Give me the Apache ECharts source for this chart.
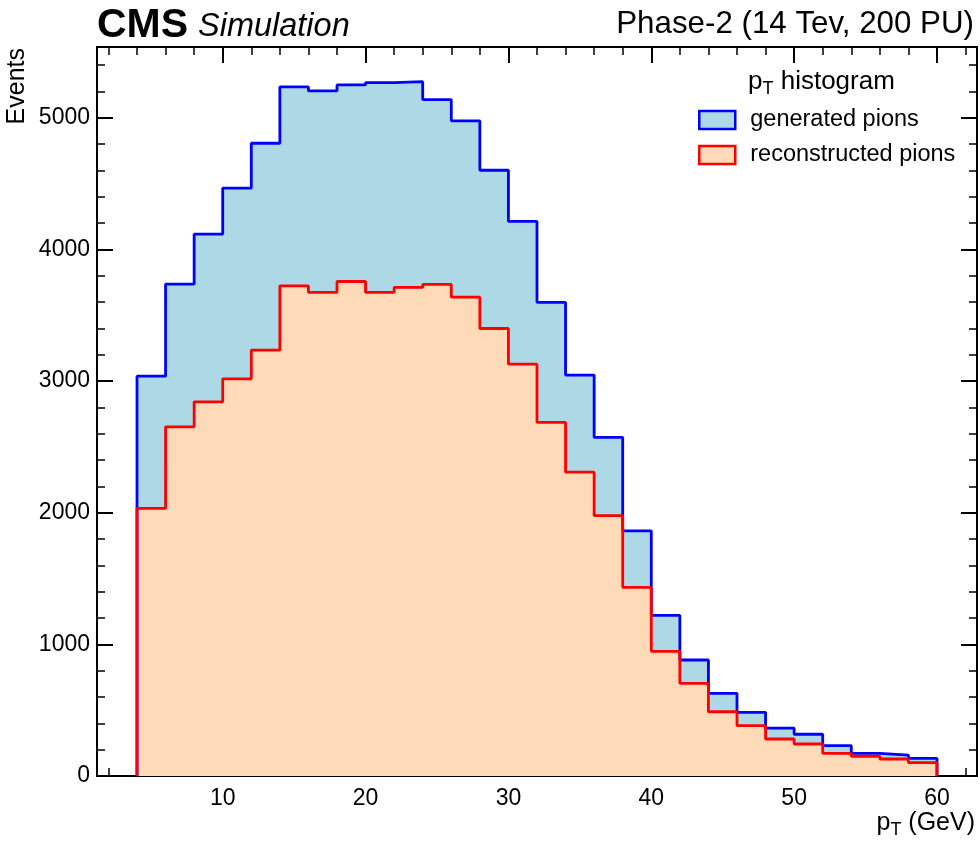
<!DOCTYPE html>
<html>
<head>
<meta charset="utf-8">
<script src="https://cdn.jsdelivr.net/npm/echarts@6/dist/echarts.min.js"></script>
<style>
html,body{margin:0;padding:0;background:#fff;}
#chart{width:980px;height:841px;}
</style>
</head>
<body>
<div id="chart"></div>
<script>
// bin edges (GeV)
var binEdges = [4, 6, 8, 10, 12, 14, 16, 18, 20, 22, 24, 26, 28, 30, 32, 34, 36, 38, 40, 42, 44, 46, 48, 50, 52, 54, 56, 58, 60];
// counts per bin
var generated = [3037, 3736, 4115, 4465, 4806, 5234, 5203, 5249, 5267, 5274, 5138, 4976, 4601, 4212, 3597, 3045, 2572, 1862, 1220, 881, 628, 484, 364, 317, 231, 172, 159, 134];
var reconstructed = [2033, 2652, 2842, 3017, 3235, 3723, 3673, 3756, 3673, 3711, 3734, 3637, 3399, 3128, 2686, 2308, 1977, 1433, 947, 704, 488, 382, 281, 243, 172, 150, 129, 101];
// tick labels
var xMajorTicks = [10, 20, 30, 40, 50, 60];
var xMinorTicks = [2, 4, 6, 8, 12, 14, 16, 18, 22, 24, 26, 28, 32, 34, 36, 38, 42, 44, 46, 48, 52, 54, 56, 58, 62];
var yMajorTicks = [0, 1000, 2000, 3000, 4000, 5000];
var yMinorTicks = [200, 400, 600, 800, 1200, 1400, 1600, 1800, 2200, 2400, 2600, 2800, 3200, 3400, 3600, 3800, 4200, 4400, 4600, 4800, 5200, 5400];

function stepData(vals) {
  var d = [[binEdges[0], 0]];
  for (var i = 0; i < vals.length; i++) d.push([binEdges[i], vals[i]]);
  d.push([binEdges[binEdges.length - 1], vals[vals.length - 1]]);
  d.push([binEdges[binEdges.length - 1], 0]);
  return d;
}

var FONT = 'Liberation Sans';
var XMIN = 1.2, XMAX = 62.8, YMIN = 0, YMAX = 5537;
function plain(v) { return String(Math.round(v)); }

function xAx(pos, ticks, len, width, labels) {
  return {
    type: 'value', position: pos, min: XMIN, max: XMAX,
    axisLine: {show: true, onZero: false, lineStyle: {color: '#000', width: 2}},
    axisTick: {show: true, inside: true, length: len, customValues: ticks, lineStyle: {color: '#000', width: width}},
    axisLabel: labels ? {show: true, customValues: ticks, formatter: plain, margin: 11, color: '#000', fontFamily: FONT, fontSize: 23} : {show: false},
    splitLine: {show: false}
  };
}
function yAx(pos, ticks, len, width, labels) {
  return {
    type: 'value', position: pos, min: YMIN, max: YMAX,
    axisLine: {show: true, onZero: false, lineStyle: {color: '#000', width: 2}},
    axisTick: {show: true, inside: true, length: len, customValues: ticks, lineStyle: {color: '#000', width: width}},
    axisLabel: labels ? {show: true, customValues: ticks, formatter: plain, margin: 7, color: '#000', fontFamily: FONT, fontSize: 23} : {show: false},
    splitLine: {show: false}
  };
}

var chart = echarts.init(document.getElementById('chart'), null, {renderer: 'canvas'});
chart.setOption({
  animation: false,
  backgroundColor: '#fff',
  grid: {left: 97, right: 3, top: 47, bottom: 65},
  xAxis: [
    xAx('bottom', xMajorTicks, 16, 2, true),
    xAx('bottom', xMinorTicks, 8, 1.5, false),
    xAx('top', xMajorTicks, 16, 2, false),
    xAx('top', xMinorTicks, 8, 1.5, false)
  ],
  yAxis: [
    yAx('left', yMajorTicks, 16, 2, true),
    yAx('left', yMinorTicks, 8, 1.5, false),
    yAx('right', yMajorTicks, 16, 2, false),
    yAx('right', yMinorTicks, 8, 1.5, false)
  ],
  legend: {
    orient: 'vertical', left: 693, top: 103, icon: 'rect',
    itemWidth: 36, itemHeight: 18, itemGap: 11,
    textStyle: {fontFamily: FONT, fontSize: 23.5, color: '#000', padding: [0, 0, 0, 10]},
    data: [
      {name: 'generated pions', itemStyle: {color: '#add8e6', borderColor: '#0000ff', borderWidth: 2.5}},
      {name: 'reconstructed pions', itemStyle: {color: '#ffdab9', borderColor: '#ff0000', borderWidth: 2.5}}
    ]
  },
  series: [
    {
      name: 'generated pions', type: 'line', step: 'end', xAxisIndex: 0, yAxisIndex: 0,
      showSymbol: false, symbol: 'none', data: stepData(generated),
      itemStyle: {color: '#0000ff'},
      lineStyle: {color: '#0000ff', width: 2.8},
      areaStyle: {color: '#add8e6', opacity: 1, origin: 'start'}
    },
    {
      name: 'reconstructed pions', type: 'line', step: 'end', xAxisIndex: 0, yAxisIndex: 0,
      showSymbol: false, symbol: 'none', data: stepData(reconstructed),
      itemStyle: {color: '#ff0000'},
      lineStyle: {color: '#ff0000', width: 2.8},
      areaStyle: {color: '#ffdab9', opacity: 1, origin: 'start'}
    }
  ],
  graphic: [
    {type: 'text', left: 97, top: 5, style: {text: 'CMS', fontFamily: FONT, fontWeight: 'bold', fontSize: 41, fill: '#000'}},
    {type: 'text', left: 198, top: 10, style: {text: 'Simulation', fontFamily: FONT, fontStyle: 'italic', fontSize: 32.5, fill: '#000'}},
    {type: 'text', right: 6, top: 9, style: {text: 'Phase-2 (14 Tev, 200 PU)', fontFamily: FONT, fontSize: 31.3, fill: '#000'}},
    {type: 'text', left: 748, top: 69, style: {
      text: '{p|p}{s|T}{p| histogram}', fill: '#000',
      rich: {p: {fontFamily: FONT, fontSize: 26, fill: '#000', verticalAlign: 'bottom'}, s: {fontFamily: FONT, fontSize: 18, fill: '#000', verticalAlign: 'bottom', padding: [0, 0, -3, 0]}}
    }},
    {type: 'text', right: 5, top: 811, style: {
      text: '{p|p}{s|T}{p| (GeV)}', fill: '#000',
      rich: {p: {fontFamily: FONT, fontSize: 25, fill: '#000', verticalAlign: 'bottom'}, s: {fontFamily: FONT, fontSize: 18, fill: '#000', verticalAlign: 'bottom', padding: [0, 0, -3, 0]}}
    }},
    {type: 'text', x: 5, y: 48, rotation: Math.PI / 2, style: {
      text: 'Events', fontFamily: FONT, fontSize: 25, fill: '#000', align: 'right', verticalAlign: 'top'
    }}
  ]
});
</script>
</body>
</html>
